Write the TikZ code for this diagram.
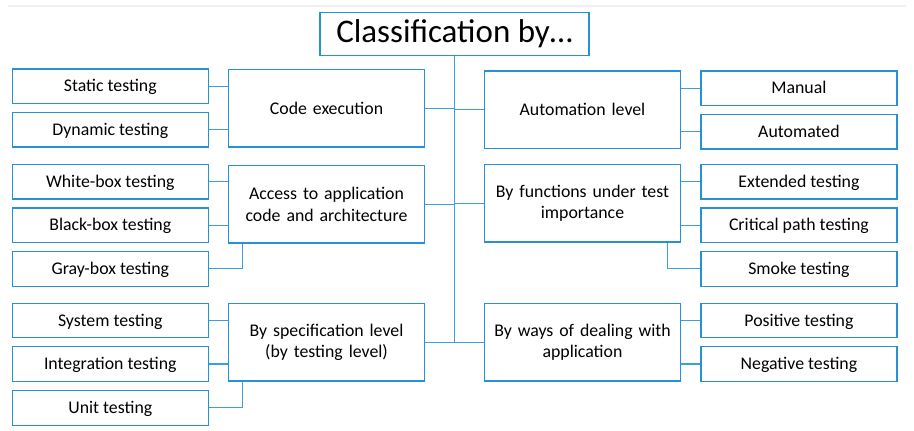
\documentclass[tikz,border=0pt]{standalone}
\usepackage{fontspec}
\setmainfont{Carlito}
\definecolor{bord}{RGB}{38,146,212}
\definecolor{conn}{RGB}{60,160,220}
\begin{document}
\begin{tikzpicture}[x=1pt,y=-1pt,
  box/.style={draw=bord,line width=1.3pt,fill=white,inner sep=2pt,align=center,
    font=\fontsize{17.8}{21.5}\selectfont},
  leaf/.style={box,minimum width=196pt,minimum height=34.5pt,text depth=1pt},
  grp/.style={box,minimum width=195.6pt,minimum height=77.5pt,text width=185pt},
  ln/.style={draw=conn,line width=1.1pt}]
\useasboundingbox (0,0) rectangle (914,431);
\draw[line width=2pt,color=black!6] (8,6) -- (906,6);
% title
\node[draw=bord,line width=1.3pt,minimum width=269pt,minimum height=42.5pt,inner sep=0pt,
  font=\fontsize{33}{38}\selectfont] (title) at (454.5,34) {Classification by…};
% left groups
\node[grp] (code) at (326.5,108.3) {Code execution};
\node[grp] (access) at (326.5,204.3) {Access to application\\code and architecture};
\node[grp] (spec) at (326.5,342.2) {By specification level\\(by testing level)};
% right groups
\node[grp] (auto) at (582.5,109.7) {Automation level};
\node[grp] (func) at (582.5,203.3) {By functions under test\\importance};
\node[grp] (ways) at (582.5,342.2) {By ways of dealing with\\application};
% left leaves
\node[leaf] (static) at (110.3,86.2) {Static testing};
\node[leaf] (dynamic) at (110.3,129.7) {Dynamic testing};
\node[leaf] (white) at (110.3,181.7) {White-box testing};
\node[leaf] (black) at (110.3,225.3) {Black-box testing};
\node[leaf] (gray) at (110.3,268.9) {Gray-box testing};
\node[leaf] (system) at (110.3,320.5) {System testing};
\node[leaf] (integ) at (110.3,364) {Integration testing};
\node[leaf] (unit) at (110.3,407.9) {Unit testing};
% right leaves
\node[leaf] (manual) at (798.9,88.3) {Manual};
\node[leaf] (automated) at (798.9,131.8) {Automated};
\node[leaf] (extended) at (798.9,181.7) {Extended testing};
\node[leaf] (critical) at (798.9,225.3) {Critical path testing};
\node[leaf] (smoke) at (798.9,268.9) {Smoke testing};
\node[leaf] (positive) at (798.9,320.5) {Positive testing};
\node[leaf] (negative) at (798.9,364) {Negative testing};
% trunk
\coordinate (tend) at (title.south |- spec.east);
\draw[ln] (title.south) -- (tend);
\foreach \g in {code,access,spec}{\draw[ln] (\g.east) -- (\g.east -| tend);}
\foreach \g in {auto,func,ways}{\draw[ln] (\g.west) -- (\g.west -| tend);}
% left leaf connectors
\foreach \l/\g in {static/code,dynamic/code,white/access,black/access,system/spec,integ/spec}{
  \draw[ln] (\l.east) -- (\l.east -| \g.west);}
\draw[ln] (gray.east) -| ([xshift=14.6pt]access.south west);
\draw[ln] (unit.east) -| ([xshift=14.6pt]spec.south west);
% right leaf connectors
\foreach \l/\g in {manual/auto,automated/auto,extended/func,critical/func,positive/ways,negative/ways}{
  \draw[ln] (\l.west) -- (\l.west -| \g.east);}
\draw[ln] (smoke.west) -| ([xshift=-13.6pt]func.south east);
\end{tikzpicture}
\end{document}
